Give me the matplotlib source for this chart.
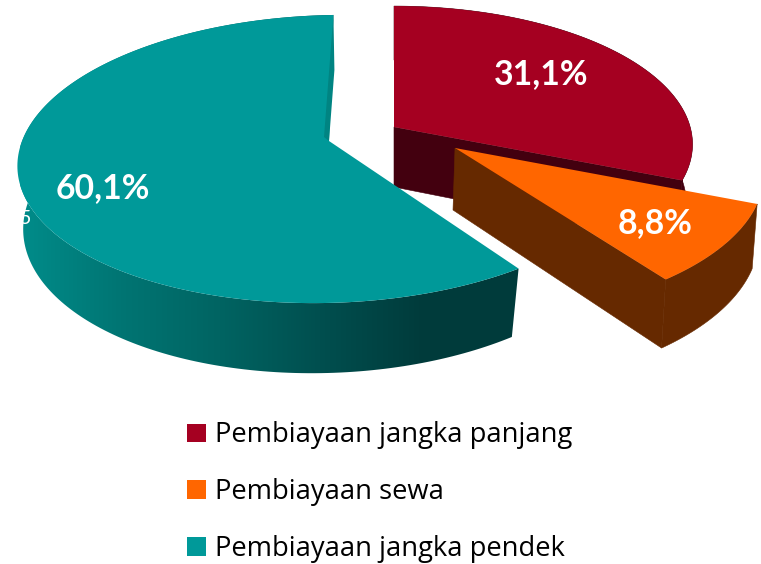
#!/usr/bin/python3
# Exploded pseudo-3D pie, every slice is built from its share and a small perspective model

import numpy as np
import matplotlib
matplotlib.use('Agg')
import matplotlib.pyplot as plt
from matplotlib.colors import LinearSegmentedColormap
from matplotlib.patches import Patch, Polygon

categories = ['Pembiayaan jangka panjang', 'Pembiayaan sewa', 'Pembiayaan jangka pendek']
shares = [31.1, 8.8, 60.1]

top_colors = ['#A50021', '#FF6600', '#009999']
wall_colors = ['#43000F', '#662900', '#004040']
teal_wall = ['#008C8A', '#007573', '#006462', '#004F4F', '#003C3C', '#003B3B']

# pie layout, in image pixels
center = np.array([329.0, 141.0])
explode = [(65, -14), (126, 7), (0, 0)]
scale = [0.96, 0.985, 1.0]
shear = [0.0, 0.0, -0.035]
tilt = [0.0, 0.0, -0.015]
persp = [0.125, 0.18, 0.125]
trim = [0, 0, -2]
depth = [60, 62, 62]
drop_x = [0, -2, -2]
low_x = [0.98, 0.99, 0.975]
radius_x = 308.5
radius_y = 141.7


def arc(t0, t1, i):
    t = np.radians(np.linspace(t0, t1, 200))
    f = 1 + persp[i] * np.sin(t)
    y = -scale[i] * radius_y * np.sin(t) / f
    x = scale[i] * radius_x * np.cos(t) / f + shear[i] * y
    return np.column_stack((x, y + tilt[i] * x))


fig = plt.figure(figsize=(7.61, 5.64), dpi=100)
ax = fig.add_axes([0, 0, 1, 1])
ax.axis('off')

ends = 90 - np.cumsum([0] + shares) * 3.6
for i in [0, 2, 1]:
    apex = center + explode[i]
    edge = arc(ends[i] + trim[i], ends[i + 1], i)
    under = apex + np.array([drop_x[i], depth[i]])
    low = under + edge * [low_x[i], 1.05]
    rim = np.vstack((apex + edge, low[::-1]))

    if i == 2:
        wall = Polygon(rim, fc='none', ec='none')
        ax.add_patch(wall)
        cmap = LinearSegmentedColormap.from_list('teal_wall', teal_wall)
        img = ax.imshow(np.linspace(0, 1, 256)[None, :], cmap=cmap, extent=(20, 520, 564, 0),
                        aspect='auto', zorder=i + 1)
        img.set_clip_path(wall)
        # the thin wall that shows on the far cut
        tip = apex + edge[-1]
        ax.add_patch(Polygon([tip, tip + [1, 55], apex, apex + [-5, -4]], fc='#008482', ec='none', zorder=i + 1.2))
    else:
        ax.add_patch(Polygon(rim, fc=wall_colors[i], ec=wall_colors[i], lw=0.4, zorder=i + 1))
        # cut face that looks to the viewer
        face = [apex, apex + edge[-1], low[-1], under]
        ax.add_patch(Polygon(face, fc=wall_colors[i], ec=wall_colors[i], lw=0.4, zorder=i + 1))

    ax.add_patch(Polygon(np.vstack((apex, apex + edge)), fc=top_colors[i], ec='none', zorder=i + 1.1))

ax.set_xlim(0, 761)
ax.set_ylim(564, 0)

labels = [('%.1f%%' % v).replace('.', ',') for v in shares]
ax.text(541, 74, labels[0], color='white', fontsize=24.3, fontweight='bold', family='Lato', ha='center', va='center', zorder=10)
ax.text(655, 223, labels[1], color='white', fontsize=24.3, fontweight='bold', family='Lato', ha='center', va='center', zorder=10)
ax.text(103, 188, labels[2], color='white', fontsize=24.3, fontweight='bold', family='Lato', ha='center', va='center', zorder=10)
# leftover digit from the source image, only half of it falls on the wall
ax.text(26, 218, '5', color='white', fontsize=14, family='Lato', ha='center', va='center', zorder=10)

handles = [Patch(fc=c, ec='none') for c in top_colors]
ax.legend(handles, categories, loc='upper left', bbox_to_anchor=(182 / 761, 1 - 416 / 564), frameon=False,
          prop={'family': 'Open Sans', 'size': 19.7}, handlelength=0.66, handleheight=0.66,
          handletextpad=0.36, labelspacing=1.05, borderpad=0.2, borderaxespad=0, labelcolor='black')

plt.savefig('out.png', dpi=100)
